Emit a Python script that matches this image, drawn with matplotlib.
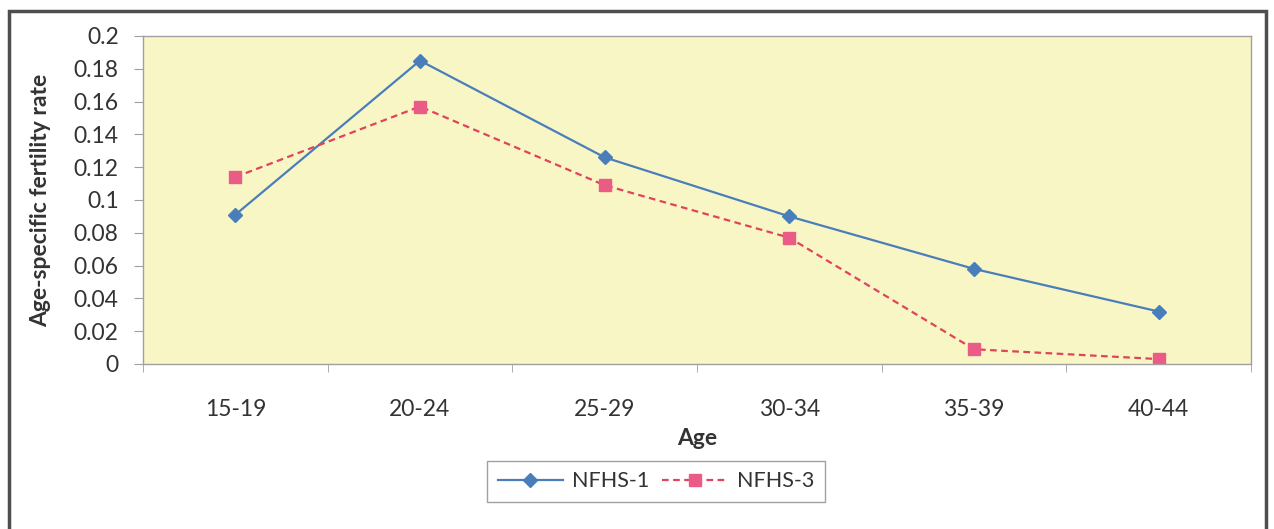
import matplotlib
matplotlib.use("Agg")
import matplotlib.pyplot as plt
from matplotlib.patches import Rectangle

age_groups = ["15-19", "20-24", "25-29", "30-34", "35-39", "40-44"]
nfhs1 = [0.091, 0.185, 0.126, 0.090, 0.058, 0.032]
nfhs3 = [0.114, 0.157, 0.109, 0.077, 0.009, 0.003]
y_ticks = [0, 0.02, 0.04, 0.06, 0.08, 0.1, 0.12, 0.14, 0.16, 0.18, 0.2]

plt.rcParams["font.family"] = ["Lato", "DejaVu Sans"]

W, H = 1274, 529
fig = plt.figure(figsize=(W / 100, H / 100), dpi=100)
fig.patch.set_facecolor("white")

# outer chart frame (runs off the bottom edge)
fig.add_artist(Rectangle((9 / W, -0.05), (1266 - 9) / W, 1.05 - 11 / H,
                         transform=fig.transFigure, fill=False,
                         edgecolor="#4d4f4f", linewidth=2.5))

ax = fig.add_axes([143 / W, (H - 364) / H, (1251 - 143) / W, (364 - 36) / H])
ax.set_facecolor("#f9f6c6")

x = list(range(len(age_groups)))
ax.plot(x, nfhs1, color="#4a7ebb", linewidth=1.6, marker="D",
        markersize=7, markerfacecolor="#4a7ebb", markeredgecolor="#4a7ebb",
        label="NFHS-1")
ax.plot(x, nfhs3, color="#e0435a", linewidth=1.6, linestyle=(0, (3, 2)),
        marker="s", markersize=9, markerfacecolor="#ea5c86",
        markeredgecolor="#ea5c86", label="NFHS-3")

ax.set_xlim(-0.5, len(age_groups) - 0.5)
ax.set_ylim(0, 0.2)
ax.set_yticks(y_ticks)
ax.set_yticklabels(["0" if v == 0 else f"{v:g}" for v in y_ticks])
ax.set_xticks(x)
ax.set_xticklabels(age_groups)
ax.set_xticks([i - 0.5 for i in range(len(age_groups) + 1)], minor=True)
ax.tick_params(axis="x", which="major", length=0, pad=25, labelsize=16.5,
               colors="#333333")
ax.tick_params(axis="x", which="minor", length=6, color="#a0a0a0",
               direction="out")
ax.tick_params(axis="y", length=6.5, color="#a0a0a0", labelsize=16.5,
               colors="#333333", pad=11)
for spine in ax.spines.values():
    spine.set_color("#a0a0a0")
    spine.set_linewidth(1.0)

ax.set_xlabel("Age", fontsize=16.5, fontweight="bold", color="#333333",
              labelpad=6)
ax.set_ylabel("Age-specific fertility rate", fontsize=16.5, fontweight="bold",
              color="#333333", labelpad=16)

leg = ax.legend(loc="upper center", bbox_to_anchor=(0.463, -0.262), ncol=2,
                frameon=True, fancybox=False, fontsize=15.5, handlelength=3.0,
                columnspacing=0.6, handletextpad=0.45, borderpad=0.5)
leg.get_frame().set_edgecolor("#8a8a8a")
leg.get_frame().set_linewidth(1.0)
for t in leg.get_texts():
    t.set_color("#333333")

fig.savefig("out.png", dpi=100, facecolor="white")
